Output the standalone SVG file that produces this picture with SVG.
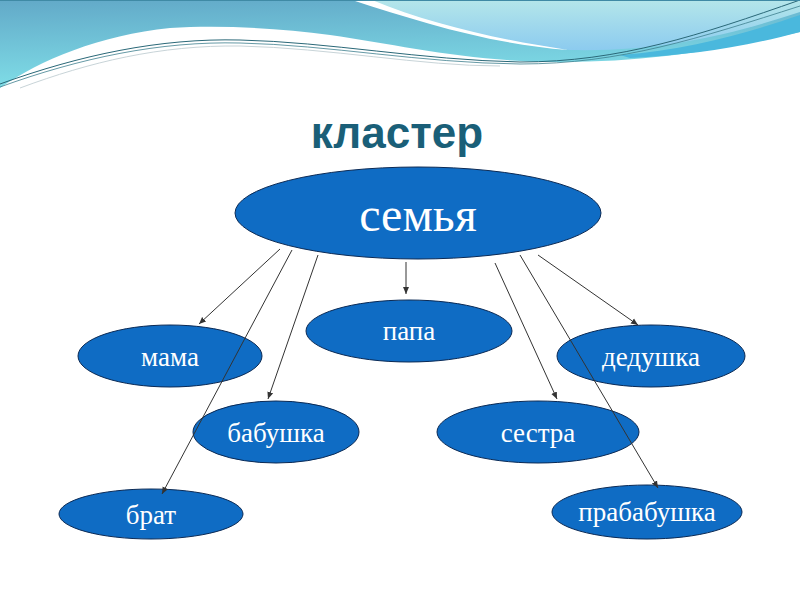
<svg xmlns="http://www.w3.org/2000/svg" width="800" height="600" viewBox="0 0 800 600">
<defs>
<linearGradient id="gBand" x1="0" y1="0" x2="0.2" y2="1">
<stop offset="0" stop-color="#62a9c8"/>
<stop offset="1" stop-color="#80dfe8"/>
</linearGradient>
<linearGradient id="gLight" x1="0" y1="0" x2="0" y2="1">
<stop offset="0" stop-color="#b4e6ea"/>
<stop offset="1" stop-color="#8ccbef"/>
</linearGradient>
<marker id="arr" markerWidth="8" markerHeight="8" refX="7" refY="4" orient="auto" markerUnits="userSpaceOnUse">
<path d="M0,1 L7,4 L0,7 Z" fill="#333"/>
</marker>
<style>
.node ellipse { fill: #0f6cc4; stroke: #0b2a55; stroke-width: 1; }
.node text { fill: #ffffff; font-family: "Liberation Serif", "DejaVu Serif", serif; font-size: 27px; text-anchor: middle; }
.conn line { stroke: #333333; stroke-width: 1; marker-end: url(#arr); }
.title { fill: #1a5f78; font-family: "Liberation Sans", Arial, sans-serif; font-weight: bold; font-size: 44px; text-anchor: middle; }
</style>
</defs>
<rect width="800" height="600" fill="#ffffff"/>
<g id="background">
<path d="M0,0 H800 V32 C720,50 650,62 560,62 C470,62 400,45 330,35 C280,28 220,25 170,28 C100,35 40,60 0,88 Z" fill="url(#gBand)"/>
<path d="M365,0 H800 V12 C730,35 660,52 570,50 C500,44 430,25 365,0 Z" fill="url(#gLight)"/>
<path d="M620,55 C690,50 750,32 800,15 V32 C740,48 690,55 630,58 Z" fill="#4ab8dd"/>
<path d="M352,0 L372,0 C430,24 500,40 568,50 C490,44 420,22 352,0 Z" fill="#ffffff"/>
<path d="M0,84 C80,55 160,38 240,40 C330,42 420,60 520,62 C620,62 700,35 800,0" fill="none" stroke="#2a6878" stroke-width="1"/>
<path d="M0,87 C80,58 160,41 240,43 C330,45 420,63 520,64 C620,64 700,38 800,6" fill="none" stroke="#3d7f8e" stroke-width="0.8"/>
<path d="M20,88 C90,62 160,45 240,46 C330,48 420,66 500,66" fill="none" stroke="#c8d4d8" stroke-width="1"/>
<line x1="0" y1="0.5" x2="800" y2="0.5" stroke="#3f8aa5" stroke-width="1"/>
</g>
<text class="title" x="397" y="148">кластер</text>
<g id="n-semya" class="node"><ellipse cx="418" cy="213" rx="183" ry="46"/><text x="418" y="231" style="font-size:48px">семья</text></g>
<g id="n-mama" class="node"><ellipse cx="170" cy="356" rx="92" ry="31"/><text x="170" y="366">мама</text></g>
<g id="n-papa" class="node"><ellipse cx="409" cy="331" rx="103" ry="31"/><text x="409" y="340">папа</text></g>
<g id="n-dedushka" class="node"><ellipse cx="651" cy="356" rx="94" ry="31"/><text x="651" y="366">дедушка</text></g>
<g id="n-babushka" class="node"><ellipse cx="276" cy="432" rx="83" ry="31"/><text x="276" y="442">бабушка</text></g>
<g id="n-sestra" class="node"><ellipse cx="538" cy="432" rx="101" ry="31"/><text x="538" y="442">сестра</text></g>
<g id="n-brat" class="node"><ellipse cx="151" cy="514" rx="92" ry="25"/><text x="151" y="524">брат</text></g>
<g id="n-prababushka" class="node"><ellipse cx="647" cy="512" rx="95" ry="27"/><text x="647" y="521">прабабушка</text></g>
<g id="connectors" class="conn">
<line x1="280" y1="249" x2="199" y2="324"/>
<line x1="292" y1="250" x2="162" y2="494"/>
<line x1="318" y1="255" x2="268" y2="399"/>
<line x1="406" y1="262" x2="406" y2="294"/>
<line x1="495" y1="263" x2="557" y2="399"/>
<line x1="520" y1="255" x2="658" y2="488"/>
<line x1="538" y1="255" x2="638" y2="325"/>
</g>
</svg>
